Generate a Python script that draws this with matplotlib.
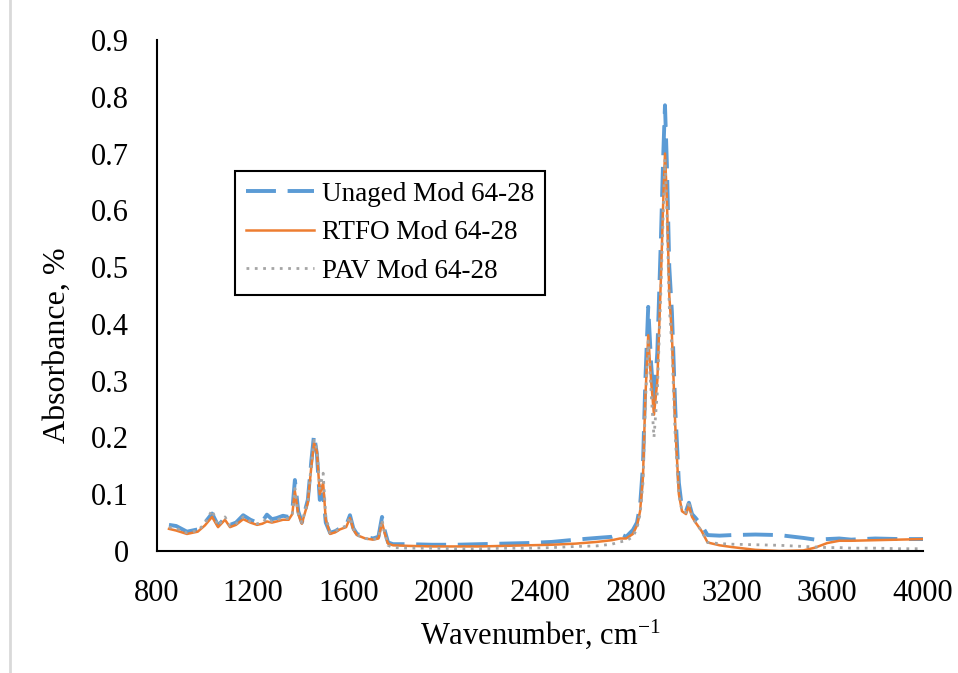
import matplotlib
matplotlib.use("Agg")
import matplotlib.pyplot as plt
from matplotlib.lines import Line2D

plt.rcParams['font.family'] = ['Liberation Serif', 'DejaVu Serif']
plt.rcParams['mathtext.fontset'] = 'custom'
plt.rcParams['mathtext.rm'] = 'Liberation Serif'
plt.rcParams['mathtext.it'] = 'Liberation Serif:italic'
plt.rcParams['axes.unicode_minus'] = False

# wavenumbers (cm-1)
wavenumber = [850, 880, 925, 970, 1000, 1030, 1055, 1084, 1105, 1130, 1160, 1190, 1218, 1240,
              1259, 1280, 1300, 1326, 1350, 1365, 1376, 1390, 1405, 1430, 1445, 1456, 1468,
              1480, 1494, 1505, 1523, 1545, 1564, 1590, 1606, 1620, 1635, 1670, 1702, 1725,
              1740, 1752, 1765, 1786, 1850, 1950, 2050, 2150, 2250, 2350, 2450, 2550, 2638,
              2700, 2734, 2760, 2788, 2805, 2818, 2830, 2840, 2852, 2864, 2876, 2890, 2905,
              2915, 2922, 2930, 2940, 2951, 2965, 2980, 2993, 3010, 3022, 3035, 3050, 3075,
              3100, 3150, 3200, 3300, 3400, 3500, 3550, 3600, 3650, 3700, 3800, 3900, 4000]

unaged = [0.046, 0.044, 0.034, 0.038, 0.050, 0.066, 0.045, 0.058, 0.046, 0.050, 0.063, 0.055,
          0.050, 0.052, 0.064, 0.056, 0.058, 0.062, 0.060, 0.070, 0.125, 0.070, 0.050, 0.090,
          0.160, 0.205, 0.170, 0.090, 0.100, 0.050, 0.032, 0.035, 0.040, 0.045, 0.063, 0.040,
          0.030, 0.025, 0.022, 0.025, 0.060, 0.035, 0.015, 0.012, 0.012, 0.011, 0.011, 0.012,
          0.013, 0.014, 0.016, 0.020, 0.023, 0.025, 0.030, 0.025, 0.037, 0.050, 0.080, 0.150,
          0.300, 0.430, 0.330, 0.260, 0.350, 0.550, 0.700, 0.785, 0.680, 0.500, 0.420, 0.250,
          0.120, 0.075, 0.070, 0.085, 0.065, 0.058, 0.045, 0.028, 0.027, 0.028, 0.029, 0.028,
          0.023, 0.020, 0.021, 0.022, 0.020, 0.022, 0.021, 0.021]

rtfo = [0.039, 0.036, 0.030, 0.034, 0.045, 0.060, 0.042, 0.055, 0.042, 0.046, 0.056, 0.050,
        0.046, 0.048, 0.052, 0.050, 0.052, 0.055, 0.055, 0.065, 0.105, 0.065, 0.048, 0.085,
        0.150, 0.190, 0.175, 0.100, 0.120, 0.055, 0.030, 0.033, 0.038, 0.042, 0.058, 0.038,
        0.028, 0.022, 0.020, 0.022, 0.050, 0.030, 0.013, 0.010, 0.009, 0.008, 0.008, 0.008,
        0.009, 0.010, 0.011, 0.013, 0.016, 0.019, 0.022, 0.022, 0.030, 0.045, 0.070, 0.130,
        0.270, 0.380, 0.300, 0.240, 0.300, 0.480, 0.620, 0.700, 0.620, 0.450, 0.380, 0.220,
        0.100, 0.070, 0.065, 0.080, 0.060, 0.050, 0.035, 0.015, 0.010, 0.007, 0.002, 0.000,
        0.001, 0.006, 0.014, 0.018, 0.018, 0.019, 0.020, 0.021]

pav = [0.042, 0.040, 0.032, 0.036, 0.048, 0.072, 0.044, 0.060, 0.044, 0.048, 0.060, 0.052,
       0.048, 0.050, 0.058, 0.052, 0.055, 0.058, 0.057, 0.066, 0.110, 0.066, 0.050, 0.088,
       0.155, 0.195, 0.180, 0.110, 0.137, 0.060, 0.032, 0.035, 0.040, 0.044, 0.060, 0.040,
       0.028, 0.022, 0.020, 0.023, 0.055, 0.030, 0.010, 0.006, 0.005, 0.005, 0.004, 0.004,
       0.005, 0.005, 0.006, 0.008, 0.009, 0.012, 0.016, 0.018, 0.025, 0.040, 0.065, 0.120,
       0.260, 0.370, 0.280, 0.200, 0.280, 0.460, 0.600, 0.690, 0.600, 0.430, 0.360, 0.200,
       0.100, 0.070, 0.068, 0.088, 0.060, 0.050, 0.035, 0.015, 0.013, 0.012, 0.011, 0.010,
       0.008, 0.007, 0.006, 0.006, 0.005, 0.005, 0.004, 0.004]

x_ticks = [800, 1200, 1600, 2000, 2400, 2800, 3200, 3600, 4000]
y_ticks = [0, 0.1, 0.2, 0.3, 0.4, 0.5, 0.6, 0.7, 0.8, 0.9]

fig = plt.figure(figsize=(9.58, 6.73), dpi=100)
ax = fig.add_axes([0.1639, 0.1813, 0.7996, 0.7593])

ax.plot(wavenumber, unaged, color='#5B9BD5', lw=2.8, dashes=(7.7, 3), label='Unaged Mod 64-28')
ax.plot(wavenumber, rtfo, color='#ED7D31', lw=1.8, label='RTFO Mod 64-28')
ax.plot(wavenumber, pav, color='#A5A5A5', lw=2.0, dashes=(1, 2), label='PAV Mod 64-28')

ax.set_xlim(800, 4000)
ax.set_ylim(0, 0.9)
ax.set_xticks(x_ticks)
ax.set_yticks(y_ticks)
ax.set_yticklabels(['0' if v == 0 else f'{v:.1f}' for v in y_ticks])
ax.tick_params(length=0, labelsize=22)
ax.tick_params(axis='x', pad=20)
ax.tick_params(axis='y', pad=20)

for s in ['top', 'right']:
    ax.spines[s].set_visible(False)
for s in ['left', 'bottom']:
    ax.spines[s].set_linewidth(1.5)

ax.set_xlabel(r'Wavenumber, cm$^{\mathregular{-1}}$', fontsize=22)
ax.set_ylabel('Absorbance, %', fontsize=23)
ax.xaxis.set_label_coords(0.5, -0.13)
ax.yaxis.set_label_coords(-0.111, 0.403)

leg = ax.legend(loc='upper left', bbox_to_anchor=(235 / 958, 1 - 171 / 673),
                bbox_transform=fig.transFigure, fontsize=19.5, fancybox=False,
                framealpha=1, edgecolor='black', handlelength=2.5, handletextpad=0.3,
                labelspacing=0.5, borderaxespad=0, borderpad=0.4)
leg.get_frame().set_linewidth(1.5)

# faint frame line of the chart area on the left
fig.add_artist(Line2D([10 / 958, 10 / 958], [0, 1], transform=fig.transFigure,
                      color='#D9D9D9', lw=2))

fig.savefig('out.png', dpi=100)
